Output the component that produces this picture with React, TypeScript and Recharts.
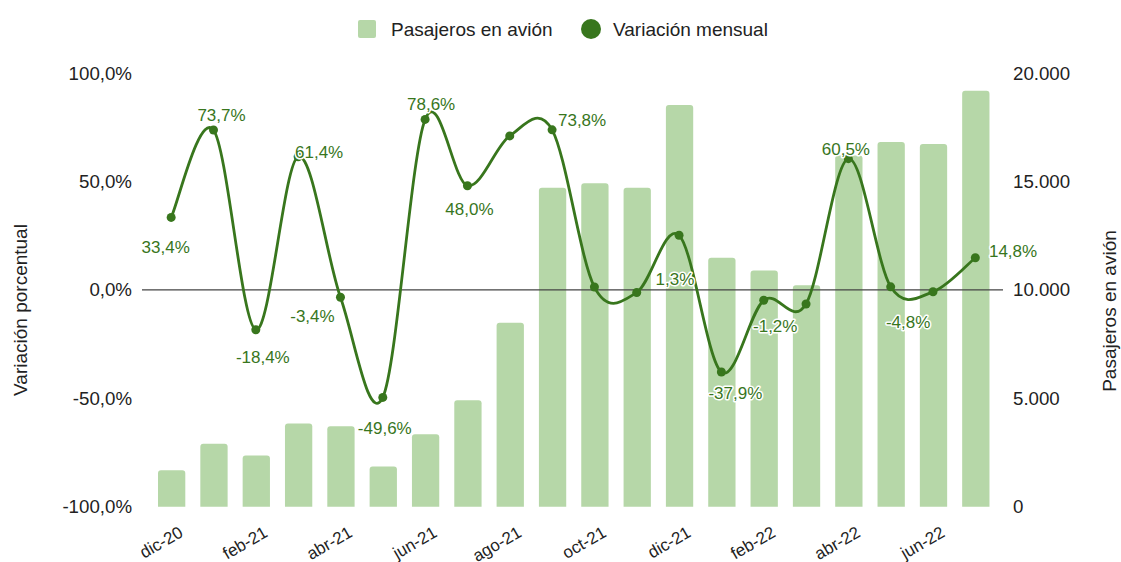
import React from 'react';
import { ComposedChart, Bar, Line, XAxis, YAxis, ReferenceLine } from 'recharts';

// ---- data ----
const months = ['dic-20', 'ene-21', 'feb-21', 'mar-21', 'abr-21', 'may-21', 'jun-21', 'jul-21', 'ago-21', 'sep-21', 'oct-21', 'nov-21', 'dic-21', 'ene-22', 'feb-22', 'mar-22', 'abr-22', 'may-22', 'jun-22', 'jul-22'];
const passengers = [1680, 2900, 2360, 3840, 3710, 1850, 3340, 4910, 8480, 14710, 14920, 14710, 18520, 11480, 10890, 10210, 16190, 16820, 16730, 19180];
const variation = [33.4, 73.7, -18.4, 61.4, -3.4, -49.6, 78.6, 48.0, 71.0, 73.8, 1.3, -1.2, 25.2, -37.9, -4.8, -6.5, 60.5, 1.4, -0.9, 14.8];
const leftTicks = [-100, -50, 0, 50, 100];
const rightTicks = [0, 5000, 10000, 15000, 20000];

// ---- layout of data labels (offset in px from point; null = no label) ----
const labelOffsets: ([number, number] | null)[] = [
  [-5.5, 29.6], [8, -14.8], [7, 27.3], [21, -3.8], [-28, 19.6], [2, 31], [6, -15], [2, 23.5],
  null, [30, -9.7], [80.5, -8], [138.5, 34], null, [14, 21.7], [144.4, 22], null,
  [-2.5, -9.3], null, null, [37.7, -6.3],
];

const BAR_COLOR = '#b6d7a8';
const LINE_COLOR = '#38761d';
const TEXT_COLOR = '#222222';
const FONT = 'Arial, "Liberation Sans", sans-serif';

const data = months.map((m, i) => ({ month: m, pax: passengers[i], pct: variation[i] }));

const fmtPct = (v: number) => v.toFixed(1).replace('.', ',') + '%';
const fmtNum = (v: number) => String(v).replace(/\B(?=(\d{3})+(?!\d))/g, '.');

// Catmull-Rom style smoothing (like the reference's curved line)
function smoothCurve(context: any) {
  let pts: [number, number][] = [];
  return {
    areaStart() {},
    areaEnd() {},
    lineStart() {
      pts = [];
    },
    lineEnd() {
      const n = pts.length;
      if (!n) return;
      context.moveTo(pts[0][0], pts[0][1]);
      for (let i = 0; i < n - 1; i++) {
        const p0 = pts[i - 1] || pts[i];
        const p1 = pts[i];
        const p2 = pts[i + 1];
        const p3 = pts[i + 2] || pts[i + 1];
        context.bezierCurveTo(
          p1[0] + (p2[0] - p0[0]) / 6,
          p1[1] + (p2[1] - p0[1]) / 6,
          p2[0] - (p3[0] - p1[0]) / 6,
          p2[1] - (p3[1] - p1[1]) / 6,
          p2[0],
          p2[1]
        );
      }
    },
    point(x: number, y: number) {
      pts.push([+x, +y]);
    },
  };
}

const XTick = (props: any) => {
  const { x, y, payload } = props;
  const ax = x + 13;
  const ay = y + 29;
  return (
    <text
      x={ax}
      y={ay}
      textAnchor="end"
      transform={`rotate(-30 ${ax} ${ay})`}
      fill={TEXT_COLOR}
      fontSize={17}
      fontFamily={FONT}
    >
      {payload.value}
    </text>
  );
};

const DotWithLabel = (props: any) => {
  const { cx, cy, index, payload } = props;
  const off = labelOffsets[index];
  return (
    <g key={`d-${index}`}>
      <circle cx={cx} cy={cy} r={4.5} fill={LINE_COLOR} />
      {off && (
        <text
          x={cx + off[0]}
          y={cy + off[1]}
          textAnchor="middle"
          dominantBaseline="central"
          fontSize={17}
          fontFamily={FONT}
          fill={LINE_COLOR}
          stroke="#ffffff"
          strokeWidth={3}
          strokeLinejoin="round"
          paintOrder="stroke"
        >
          {fmtPct(payload.pct)}
        </text>
      )}
    </g>
  );
};

const ZeroLine = (props: any) => {
  const { x1, x2, y1 } = props;
  return <line x1={x1} x2={x2} y1={y1} y2={y1} stroke="#444" strokeWidth={1.4} />;
};

export default function App() {
  return (
    <div style={{ position: 'absolute', left: 0, top: 0, width: 1121, height: 562, background: '#fff' }}>
      <ComposedChart
        width={1121}
        height={562}
        data={data}
        margin={{ top: 73, right: 0, bottom: 0, left: 0 }}
        style={{ fontFamily: FONT }}
      >
        <XAxis
          dataKey="month"
          xAxisId="x"
          interval={1}
          tickLine={false}
          axisLine={false}
          tickSize={0}
          tickMargin={0}
          height={55.3}
          padding={{ left: 8, right: 6.5 }}
          tick={<XTick />}
        />
        <YAxis
          yAxisId="left"
          orientation="left"
          domain={[-100, 100]}
          ticks={leftTicks}
          tickFormatter={fmtPct}
          width={142}
          axisLine={false}
          tickLine={false}
          tickSize={0}
          tickMargin={10}
          tick={{ fill: TEXT_COLOR, fontSize: 18.7, fontFamily: FONT }}
          label={{
            content: () => (
              <text
                x={20}
                y={310}
                transform="rotate(-90 20 310)"
                textAnchor="middle"
                dominantBaseline="central"
                fontSize={19}
                fontFamily={FONT}
                fill={TEXT_COLOR}
              >
                Variación porcentual
              </text>
            ),
          }}
        />
        <YAxis
          yAxisId="right"
          orientation="right"
          domain={[0, 20000]}
          ticks={rightTicks}
          tickFormatter={fmtNum}
          width={118}
          axisLine={false}
          tickLine={false}
          tickSize={0}
          tickMargin={10}
          tick={{ fill: TEXT_COLOR, fontSize: 18.7, fontFamily: FONT }}
          label={{
            content: () => (
              <text
                x={1109}
                y={311}
                transform="rotate(-90 1109 311)"
                textAnchor="middle"
                dominantBaseline="central"
                fontSize={19}
                fontFamily={FONT}
                fill={TEXT_COLOR}
              >
                Pasajeros en avión
              </text>
            ),
          }}
        />
        <Bar
          xAxisId="x"
          yAxisId="right"
          dataKey="pax"
          name="Pasajeros en avión"
          fill={BAR_COLOR}
          barSize={27.3}
          radius={[3, 3, 0, 0]}
          isAnimationActive={false}
        />
        <ReferenceLine xAxisId="x" yAxisId="left" y={0} shape={<ZeroLine />} />
        <Line
          xAxisId="x"
          yAxisId="left"
          dataKey="pct"
          name="Variación mensual"
          type={smoothCurve as any}
          stroke={LINE_COLOR}
          strokeWidth={2.8}
          dot={<DotWithLabel />}
          activeDot={false}
          isAnimationActive={false}
        />
      </ComposedChart>
      <svg
        width={1121}
        height={60}
        style={{ position: 'absolute', left: 0, top: 0, pointerEvents: 'none' }}
      >
        <rect x={358} y={20} width={18} height={18} rx={2} fill={BAR_COLOR} />
        <text x={391} y={29} dominantBaseline="central" fontSize={19} fontFamily={FONT} fill={TEXT_COLOR}>
          Pasajeros en avión
        </text>
        <circle cx={591} cy={29} r={10} fill={LINE_COLOR} />
        <text x={613} y={29} dominantBaseline="central" fontSize={19} fontFamily={FONT} fill={TEXT_COLOR}>
          Variación mensual
        </text>
      </svg>
    </div>
  );
}
